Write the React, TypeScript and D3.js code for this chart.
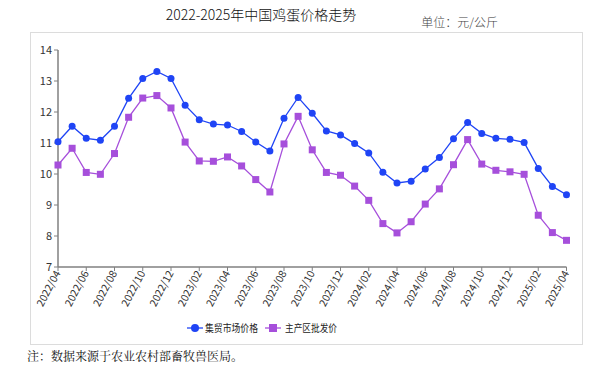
import React from "react";
import * as d3 from "d3";

const months: string[] = [
  "2022/04","2022/05","2022/06","2022/07","2022/08","2022/09","2022/10","2022/11","2022/12",
  "2023/01","2023/02","2023/03","2023/04","2023/05","2023/06","2023/07","2023/08","2023/09","2023/10","2023/11","2023/12",
  "2024/01","2024/02","2024/03","2024/04","2024/05","2024/06","2024/07","2024/08","2024/09","2024/10","2024/11","2024/12",
  "2025/01","2025/02","2025/03","2025/04",
];
const marketPrice: number[] = [
  11.04, 11.54, 11.15, 11.09, 11.54, 12.44, 13.08, 13.31, 13.08,
  12.22, 11.75, 11.61, 11.58, 11.37, 11.03, 10.74, 11.80, 12.47, 11.96, 11.39, 11.26,
  10.98, 10.68, 10.06, 9.71, 9.77, 10.16, 10.53, 11.14, 11.66, 11.31, 11.15, 11.12,
  11.02, 10.18, 9.60, 9.33,
];
const wholesalePrice: number[] = [
  10.29, 10.83, 10.05, 9.99, 10.66, 11.83, 12.45, 12.53, 12.13,
  11.03, 10.42, 10.41, 10.55, 10.26, 9.82, 9.42, 10.97, 11.86, 10.78, 10.05, 9.96,
  9.61, 9.15, 8.40, 8.10, 8.46, 9.03, 9.52, 10.30, 11.11, 10.32, 10.12, 10.07,
  9.99, 8.67, 8.11, 7.86,
];
const yTicks: number[] = [7, 8, 9, 10, 11, 12, 13, 14];
const seriesNames: string[] = ["集贸市场价格", "主产区批发价"];
const title = "2022-2025年中国鸡蛋价格走势";
const unitLabel = "单位：元/公斤";
const note = "注：数据来源于农业农村部畜牧兽医局。";

const BLUE = "#1f44f5";
const PURPLE = "#a64fdb";
const AXIS = "#808080";
const FONT = "'Noto Sans CJK SC', 'Noto Sans', sans-serif";

export default function App() {
  const W = 612, H = 369;
  const x = d3.scalePoint<string>().domain(months).range([58, 566.5]);
  const y = d3.scaleLinear().domain([7, 14]).range([267, 50]);
  const line = d3.line<number>().x((_, i) => x(months[i]) as number).y((d) => y(d));
  const labeled = months.filter((_, i) => i % 2 === 0);

  return (
    <svg width={W} height={H} style={{ position: "absolute", left: 0, top: 0, background: "#fff" }} fontFamily={FONT}>
      <rect x={0} y={0} width={W} height={H} fill="#fff" />
      <text x={261} y={20} textAnchor="middle" fontSize={14} fontWeight={300} fill="#111">{title}</text>
      <text x={498} y={27} textAnchor="end" fontSize={12} fontWeight={300} fill="#444">{unitLabel}</text>
      <rect x={30.5} y={32.5} width={552} height={312} fill="none" stroke="#dcdcdc" strokeWidth={1} />

      {/* y axis */}
      <line x1={58} x2={58} y1={y(14)} y2={y(7)} stroke={AXIS} strokeWidth={1.5} />
      {yTicks.map((t) => (
        <g key={t}>
          <line x1={54} x2={58} y1={y(t)} y2={y(t)} stroke={AXIS} strokeWidth={1} />
          <text x={52} y={y(t) + 4} textAnchor="end" fontSize={11} fill="#333">{t}</text>
        </g>
      ))}
      {/* x axis */}
      <line x1={58} x2={566.5} y1={y(7)} y2={y(7)} stroke={AXIS} strokeWidth={1.5} />
      {labeled.map((m) => {
        const px = x(m) as number;
        return (
          <g key={m}>
            <line x1={px} x2={px} y1={y(7)} y2={y(7) + 4} stroke={AXIS} strokeWidth={1} />
            <text
              transform={`translate(${px + 3},${y(7) + 6}) rotate(-62)`}
              textAnchor="end"
              fontSize={10.5}
              fill="#333"
            >
              {m}
            </text>
          </g>
        );
      })}

      {/* series */}
      <path d={line(wholesalePrice) || ""} fill="none" stroke={PURPLE} strokeWidth={1.3} />
      <path d={line(marketPrice) || ""} fill="none" stroke={BLUE} strokeWidth={1.3} />
      {wholesalePrice.map((v, i) => (
        <rect key={"w" + i} x={(x(months[i]) as number) - 3.5} y={y(v) - 3.5} width={7} height={7} fill={PURPLE} />
      ))}
      {marketPrice.map((v, i) => (
        <circle key={"m" + i} cx={x(months[i]) as number} cy={y(v)} r={3.5} fill={BLUE} />
      ))}

      {/* legend */}
      <g>
        <line x1={187} x2={203} y1={328} y2={328} stroke={BLUE} strokeWidth={1.3} />
        <circle cx={195} cy={328} r={4} fill={BLUE} />
        <text x={205} y={332} fontSize={10.5} fill="#222" textLength={53} lengthAdjust="spacingAndGlyphs">{seriesNames[0]}</text>
        <line x1={265} x2={281} y1={328} y2={328} stroke={PURPLE} strokeWidth={1.3} />
        <rect x={269} y={324} width={8} height={8} fill={PURPLE} />
        <text x={285} y={332} fontSize={10.5} fill="#222" textLength={52} lengthAdjust="spacingAndGlyphs">{seriesNames[1]}</text>
      </g>

      <text x={27} y={361} fontSize={12} fill="#111" fontFamily="'Noto Serif CJK SC', 'Noto Sans CJK SC', serif">{note}</text>
    </svg>
  );
}
